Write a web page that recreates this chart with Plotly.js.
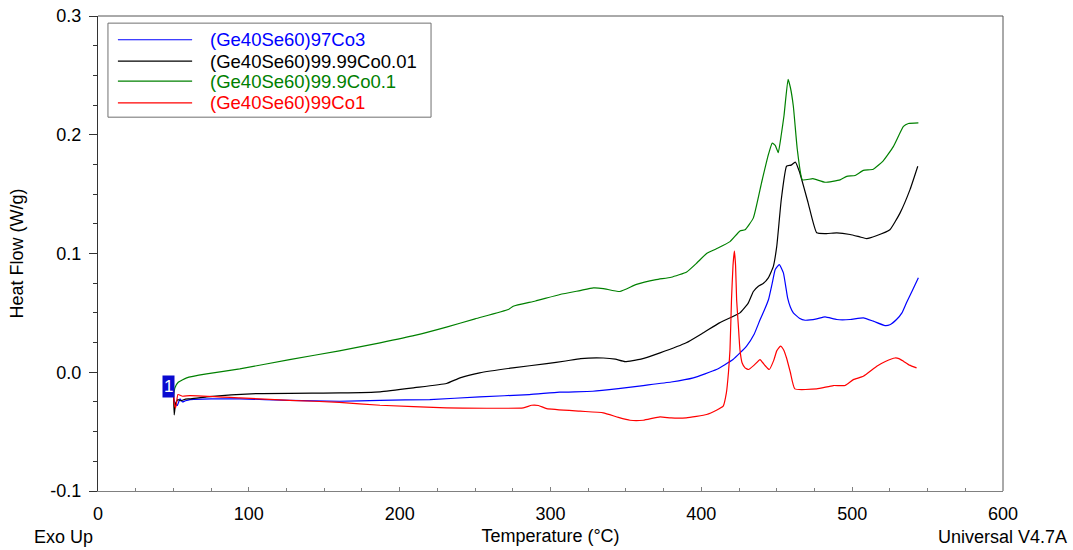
<!DOCTYPE html>
<html>
<head>
<meta charset="utf-8">
<script src="https://cdn.plot.ly/plotly-3.0.1.min.js"></script>
<style>html,body{margin:0;padding:0;background:#fff;}#chart{width:1073px;height:550px;}</style>
</head>
<body>
<div id="chart"></div>
<script>
// ---- data ----
const seriesNames = ['(Ge40Se60)97Co3', '(Ge40Se60)99.99Co0.01', '(Ge40Se60)99.9Co0.1', '(Ge40Se60)99Co1'];
const seriesColors = ['#0000ff', '#000000', '#008000', '#ff0000'];

const tBlue = [50, 51, 52.5, 54.4, 56, 58, 61, 75, 94, 127, 160, 187, 220, 253, 286, 306, 328, 345, 361.5, 380, 394.7, 410, 421, 430, 435, 439, 442, 444.6, 447, 449, 451.7, 454.4, 457.2, 459, 461, 465, 468.8, 476.5, 482, 489.8, 498.6, 507.4, 514, 521.8, 525, 529.4, 533, 536, 540, 543.9];
const hfBlue = [-0.020, -0.026, -0.028, -0.0224, -0.025, -0.024, -0.023, -0.0225, -0.0224, -0.0236, -0.0244, -0.0236, -0.023, -0.0207, -0.0188, -0.0168, -0.016, -0.0138, -0.0112, -0.0082, -0.0047, 0.0023, 0.0107, 0.022, 0.032, 0.0444, 0.053, 0.0615, 0.075, 0.0865, 0.0907, 0.0837, 0.0627, 0.055, 0.050, 0.0455, 0.0438, 0.045, 0.0467, 0.0444, 0.0444, 0.0458, 0.043, 0.0393, 0.040, 0.0444, 0.050, 0.0585, 0.069, 0.0795];

const tBlack = [50, 50.5, 51.5, 53, 55, 58, 61, 72, 105, 160.5, 187, 210, 231, 240, 253, 275, 297.5, 310, 320, 335, 343, 349.4, 360, 372.6, 390, 401, 412, 425.6, 431, 434.5, 437.8, 441, 444.4, 447.7, 450, 453, 456.5, 459.5, 462.3, 465, 470.8, 476.5, 483, 489.8, 498.6, 505, 509.6, 516, 525, 531.7, 538.4, 543.5];
const hfBlack = [-0.015, -0.036, -0.026, -0.023, -0.024, -0.0226, -0.0224, -0.0207, -0.018, -0.0174, -0.0165, -0.013, -0.0095, -0.0047, -0.0005, 0.0037, 0.0073, 0.0095, 0.0115, 0.012, 0.011, 0.009, 0.011, 0.0163, 0.0248, 0.033, 0.0416, 0.050, 0.058, 0.068, 0.0725, 0.0747, 0.0795, 0.089, 0.106, 0.1455, 0.1735, 0.1744, 0.177, 0.169, 0.1427, 0.1174, 0.1168, 0.1174, 0.116, 0.114, 0.1126, 0.115, 0.120, 0.134, 0.154, 0.1735];

const tGreen = [50, 51, 53.2, 58.8, 72, 94, 127, 160, 187, 210, 231, 250, 272, 275.3, 290, 306.3, 319.6, 328.4, 335, 346, 357, 370, 380, 390.3, 397, 403.5, 410, 419, 425.6, 429, 434.5, 440, 444.4, 447, 449, 451, 453, 454.8, 457.5, 459, 461, 463.6, 467, 474, 482, 492, 496.4, 502, 507.4, 514, 520.6, 527.3, 534, 537.3, 543.9];
const hfGreen = [-0.020, -0.013, -0.0084, -0.0047, -0.0014, 0.0028, 0.0107, 0.018, 0.0248, 0.031, 0.038, 0.045, 0.0528, 0.0556, 0.060, 0.0655, 0.0688, 0.071, 0.0705, 0.068, 0.074, 0.078, 0.080, 0.0845, 0.092, 0.100, 0.104, 0.110, 0.119, 0.120, 0.130, 0.160, 0.183, 0.193, 0.191, 0.185, 0.200, 0.216, 0.2466, 0.240, 0.224, 0.188, 0.162, 0.163, 0.160, 0.162, 0.165, 0.1657, 0.170, 0.171, 0.178, 0.190, 0.207, 0.2095, 0.210];

const tRed = [50, 50.5, 51.5, 53, 56, 61, 94, 127, 160, 187, 231, 282, 287.5, 292, 297.5, 319.6, 335, 345, 352.7, 361.5, 372.6, 380, 390, 403.5, 410, 414.5, 416.6, 418, 419, 420, 421, 421.9, 422.7, 423.4, 424.5, 425.6, 427, 429, 431.3, 435, 438.9, 442, 445, 448, 450, 452.5, 454.5, 456.5, 459, 462, 476.5, 487.5, 495.3, 500.8, 507.4, 516.3, 522, 528.4, 531, 534, 538, 542.7];
const hfRed = [-0.015, -0.026, -0.030, -0.0188, -0.0202, -0.0196, -0.0216, -0.0236, -0.0253, -0.0278, -0.030, -0.030, -0.0278, -0.028, -0.0306, -0.0328, -0.0342, -0.038, -0.0404, -0.0404, -0.0376, -0.0385, -0.0384, -0.0356, -0.032, -0.0286, -0.0174, 0.000, 0.019, 0.061, 0.090, 0.102, 0.090, 0.061, 0.040, 0.019, 0.008, 0.0037, 0.0023, 0.006, 0.0107, 0.006, 0.0023, 0.010, 0.018, 0.022, 0.019, 0.012, 0.000, -0.014, -0.014, -0.0112, -0.0112, -0.0062, -0.0034, 0.005, 0.009, 0.012, 0.0115, 0.0093, 0.006, 0.0037];

const yTickVals = [-0.1, 0.0, 0.1, 0.2, 0.3];
const yTickText = ['-0.1', '0.0', '0.1', '0.2', '0.3'];
const xTickVals = [0, 100, 200, 300, 400, 500, 600];
const xTickText = ['0', '100', '200', '300', '400', '500', '600'];

// ---- chart ----
const xs = [tBlue, tBlack, tGreen, tRed];
const ys = [hfBlue, hfBlack, hfGreen, hfRed];
const traces = xs.map((x, i) => ({
  x: x, y: ys[i], type: 'scatter', mode: 'lines', name: seriesNames[i],
  line: {color: seriesColors[i], width: 1.2, shape: 'spline', smoothing: 0.4}, showlegend: false, hoverinfo: 'skip'
}));

const FONT = '"Liberation Sans", Arial, sans-serif';

// manual legend (box + line samples + coloured labels), paper coordinates
const legX0 = 0.011, legX1 = 0.368, legY0 = 0.787, legY1 = 0.985;
const rowY = [0.950, 0.905, 0.863, 0.817];
const shapes = [
  {type: 'rect', xref: 'paper', yref: 'paper', x0: legX0, x1: legX1, y0: legY0, y1: legY1,
   line: {color: '#707070', width: 1}, fillcolor: 'rgba(0,0,0,0)'},
  {type: 'line', xref: 'paper', yref: 'paper', x0: 0, x1: 1, y0: 1, y1: 1, line: {color: '#555', width: 1}},
  {type: 'line', xref: 'paper', yref: 'paper', x0: 1, x1: 1, y0: 0, y1: 1, line: {color: '#555', width: 1}}
];
const annotations = [];
seriesNames.forEach((n, i) => {
  shapes.push({type: 'line', xref: 'paper', yref: 'paper', x0: 0.022, x1: 0.104, y0: rowY[i], y1: rowY[i],
               line: {color: seriesColors[i], width: 1.2}});
  annotations.push({xref: 'paper', yref: 'paper', x: 0.121, y: rowY[i], xanchor: 'left', yanchor: 'middle',
                    text: n, showarrow: false, font: {family: FONT, size: 18.5, color: seriesColors[i]}});
});
annotations.push({xref: 'paper', yref: 'paper', x: -0.073, y: -0.097, xanchor: 'left', yanchor: 'middle',
                  text: 'Exo Up', showarrow: false, font: {family: FONT, size: 18, color: '#000'}});
annotations.push({xref: 'paper', yref: 'paper', x: 1.073, y: -0.097, xanchor: 'right', yanchor: 'middle',
                  text: 'Universal V4.7A', showarrow: false, font: {family: FONT, size: 18, color: '#000'}});
annotations.push({xref: 'x', yref: 'y', x: 47, y: -0.012, xanchor: 'center', yanchor: 'middle',
                  text: '1', showarrow: false, bgcolor: '#0a0ad0', borderpad: 1,
                  font: {family: FONT, size: 17, color: '#fff'}});

const layout = {
  width: 1073, height: 550,
  margin: {l: 98, r: 70, t: 16, b: 59, pad: 0},
  paper_bgcolor: '#fff', plot_bgcolor: '#fff',
  font: {family: FONT, size: 18, color: '#000'},
  showlegend: false,
  xaxis: {
    range: [0, 600], tickvals: xTickVals, ticktext: xTickText,
    showgrid: false, zeroline: false, showline: true, linecolor: '#808080', linewidth: 1,
    ticks: 'inside', ticklen: 4, tickcolor: '#808080', ticklabelstandoff: 6,
    minor: {dtick: 25, tick0: 0, ticks: 'inside', ticklen: 3, tickcolor: '#808080', showgrid: false},
    title: {text: 'Temperature (°C)', standoff: 6, font: {size: 18}},
    automargin: false
  },
  yaxis: {
    range: [-0.1, 0.3], tickvals: yTickVals, ticktext: yTickText,
    showgrid: false, zeroline: false, showline: true, linecolor: '#333', linewidth: 1,
    ticks: 'outside', ticklen: 8, tickcolor: '#333', ticklabelstandoff: 4,
    minor: {dtick: 0.025, tick0: 0, ticks: 'outside', ticklen: 4, tickcolor: '#333', showgrid: false},
    title: {text: 'Heat Flow (W/g)', standoff: 22, font: {size: 18}},
    automargin: false
  },
  shapes: shapes,
  annotations: annotations
};

Plotly.newPlot('chart', traces, layout, {displayModeBar: false, staticPlot: true});
</script>
</body>
</html>
